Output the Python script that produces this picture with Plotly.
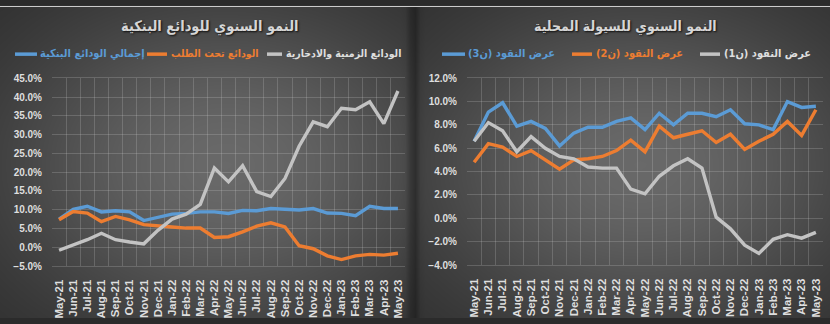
import numpy as np
import plotly.graph_objects as go

# ---- data -------------------------------------------------------------
months = ["May-21", "Jun-21", "Jul-21", "Aug-21", "Sep-21", "Oct-21", "Nov-21",
          "Dec-21", "Jan-22", "Feb-22", "Mar-22", "Apr-22", "May-22", "Jun-22",
          "Jul-22", "Aug-22", "Sep-22", "Oct-22", "Nov-22", "Dec-22", "Jan-23",
          "Feb-23", "Mar-23", "Apr-23", "May-23"]

# Annual growth of bank deposits (%)
deposits_total = [7.5, 10.1, 10.9, 9.4, 9.7, 9.4, 7.1, 7.9, 8.8, 9.0, 9.4, 9.4, 9.0,
                  9.8, 9.7, 10.3, 10.1, 9.9, 10.3, 9.1, 9.0, 8.4, 10.9, 10.3, 10.3]
deposits_demand = [7.3, 9.5, 9.1, 6.8, 8.2, 7.3, 6.0, 5.8, 5.4, 5.1, 5.1, 2.6, 2.8,
                   4.1, 5.6, 6.5, 5.4, 0.4, -0.4, -2.3, -3.3, -2.3, -1.9, -2.1, -1.6]
deposits_time_savings = [-0.8, 0.5, 2.0, 3.7, 2.0, 1.4, 0.9, 4.5, 7.5, 8.8, 11.4, 21.1,
                         17.4, 21.7, 14.8, 13.5, 18.3, 26.9, 33.4, 32.1, 37.0, 36.6,
                         38.7, 32.9, 41.6]

# Annual growth of domestic liquidity (%)
money_m1 = [6.6, 8.2, 7.5, 5.7, 7.0, 6.0, 5.3, 5.1, 4.4, 4.3, 4.3, 2.5, 2.1, 3.6,
            4.5, 5.1, 4.3, 0.1, -0.9, -2.3, -3.0, -1.8, -1.4, -1.7, -1.2]
money_m2 = [4.8, 6.4, 6.1, 5.3, 5.8, 5.0, 4.2, 5.0, 5.1, 5.3, 5.8, 6.7, 5.7, 7.9,
            6.9, 7.2, 7.5, 6.5, 7.2, 5.9, 6.6, 7.2, 8.3, 7.1, 9.3]
money_m3 = [6.6, 9.1, 9.9, 7.9, 8.3, 7.7, 6.2, 7.3, 7.8, 7.8, 8.3, 8.6, 7.6, 9.0,
            8.0, 9.0, 9.0, 8.7, 9.3, 8.1, 8.0, 7.6, 10.0, 9.5, 9.6]

left_title = "النمو السنوي للودائع البنكية"
right_title = "النمو السنوي للسيولة المحلية"
left_names = ["إجمالي الودائع البنكية", "الودائع تحت الطلب", "الودائع الزمنية والادخارية"]
right_names = ["عرض النقود (ن3)", "عرض النقود (ن2)", "عرض النقود (ن1)"]

# ---- style -------------------------------------------------------------
W, H = 830, 324
BLUE, ORANGE, GRAY = "#5b9bd5", "#ed7d31", "#c3c3c3"
TEXT = "#dedede"
GRID = "rgba(210,210,210,0.22)"
ARABIC = "DejaVu Sans Condensed, DejaVu Sans"
LATIN = "Liberation Sans"


def px(x):
    return x / W


def py(y):
    return 1 - y / H


fig = go.Figure()

# dark vignette background (two panels), drawn on a full-page hidden axis
gx = np.linspace(0, W, 167)
gy = np.linspace(0, H, 66)
GX, GY = np.meshgrid(gx, gy)
cx = np.where(GX < 414, 225.0, 640.0)
bg = 0.16 + 0.25 * np.exp(-(((GX - cx) / 230.0) ** 2 + ((GY - 165.0) / 175.0) ** 2))
bg *= 1 - 0.35 * np.exp(-((GX - 413.0) / 5.0) ** 2)
fig.add_trace(go.Heatmap(x=gx, y=gy, z=bg, zmin=0, zmax=1, zsmooth="best",
                         colorscale=[[0, "#000000"], [1, "#ffffff"]],
                         showscale=False, hoverinfo="skip", xaxis="x", yaxis="y"))

# legend labels, left-aligned just right of their line samples (page pixels)
LEG_Y = 50
legend_items = [
    # (label, line colour, line x0, line x1, label start, text colour, size)
    (left_names[2], GRAY, 267, 282, 286, TEXT, 10.5),
    (left_names[1], ORANGE, 147, 167, 171, ORANGE, 10.5),
    (left_names[0], BLUE, 15, 37, 40, BLUE, 11),
    (right_names[2], GRAY, 700, 720, 724, TEXT, 11),
    (right_names[1], ORANGE, 572, 592, 596, ORANGE, 11),
    (right_names[0], BLUE, 442, 465, 468, BLUE, 11),
]
for label, col, x0, x1, xs, tcol, size in legend_items:
    fig.add_shape(type="line", xref="paper", yref="paper", x0=px(x0), x1=px(x1),
                  y0=py(LEG_Y), y1=py(LEG_Y), line=dict(color=col, width=3.5))
    fig.add_trace(go.Scatter(x=[xs], y=[LEG_Y], text=[label], mode="text",
                             textposition="middle right",
                             textfont=dict(family=ARABIC, size=size, color=tcol,
                                           weight="bold"),
                             hoverinfo="skip", showlegend=False,
                             xaxis="x", yaxis="y"))

# left panel: bank deposits
for name, vals, col in zip(left_names,
                           [deposits_total, deposits_demand, deposits_time_savings],
                           [BLUE, ORANGE, GRAY]):
    fig.add_trace(go.Scatter(x=months, y=vals, name=name, mode="lines",
                             line=dict(color=col, width=3.4),
                             xaxis="x2", yaxis="y2", showlegend=False))

# right panel: money supply
for name, vals, col in zip(right_names, [money_m3, money_m2, money_m1],
                           [BLUE, ORANGE, GRAY]):
    fig.add_trace(go.Scatter(x=months, y=vals, name=name, mode="lines",
                             line=dict(color=col, width=3.4),
                             xaxis="x3", yaxis="y3", showlegend=False))

ytick_font = dict(family=LATIN, size=10, color=TEXT, weight="bold")
xtick_font = dict(family=LATIN, size=11.5, color=TEXT, weight="bold")


def cat_axis(domain):
    return dict(domain=domain, type="category", tickson="boundaries",
                tickangle=-90, tickfont=xtick_font, showgrid=True, gridcolor=GRID,
                gridwidth=1, ticks="", showline=True, mirror=True, linecolor=GRID,
                zeroline=False, range=[-0.5, 24.5], ticklabelstandoff=8)


def val_axis(domain, rng, dtick, anchor):
    return dict(domain=domain, range=rng, dtick=dtick, tickformat=".1f",
                ticksuffix="%", tickfont=ytick_font, showgrid=True, gridcolor=GRID,
                gridwidth=1, zeroline=False, ticks="", anchor=anchor,
                ticklabelstandoff=9)


ydom_l = [py(270), py(75)]
ydom_r = [py(269), py(75)]

fig.update_layout(
    width=W, height=H,
    margin=dict(l=0, r=0, t=0, b=0),
    paper_bgcolor="#2b2b2b", plot_bgcolor="rgba(0,0,0,0)",
    showlegend=False,
    xaxis=dict(domain=[0, 1], range=[0, W], visible=False, fixedrange=True),
    yaxis=dict(domain=[0, 1], range=[H, 0], visible=False, fixedrange=True),
    xaxis2=dict(cat_axis([px(52), px(405)]), anchor="y2"),
    yaxis2=val_axis(ydom_l, [-5, 45], 5, "x2"),
    xaxis3=dict(cat_axis([px(467), px(823)]), anchor="y3"),
    yaxis3=val_axis(ydom_r, [-4, 12], 2, "x3"),
)

# titles
title_font = dict(family=ARABIC, color="#d6d6d6", weight="bold",
                  shadow="1px 1px 2px rgba(0,0,0,0.8)")
for text, xc, size in [(left_title, 210, 14.5), (right_title, 625, 14)]:
    fig.add_annotation(text=text, x=px(xc), y=py(22), xref="paper", yref="paper",
                       xanchor="center", yanchor="middle", showarrow=False,
                       font=dict(title_font, size=size))

# thin light rule along the top edge
fig.add_shape(type="line", xref="paper", yref="paper", x0=0, x1=1, y0=py(0.5),
              y1=py(0.5), line=dict(color="#d0d0d0", width=1))

fig.write_html("out.html")
